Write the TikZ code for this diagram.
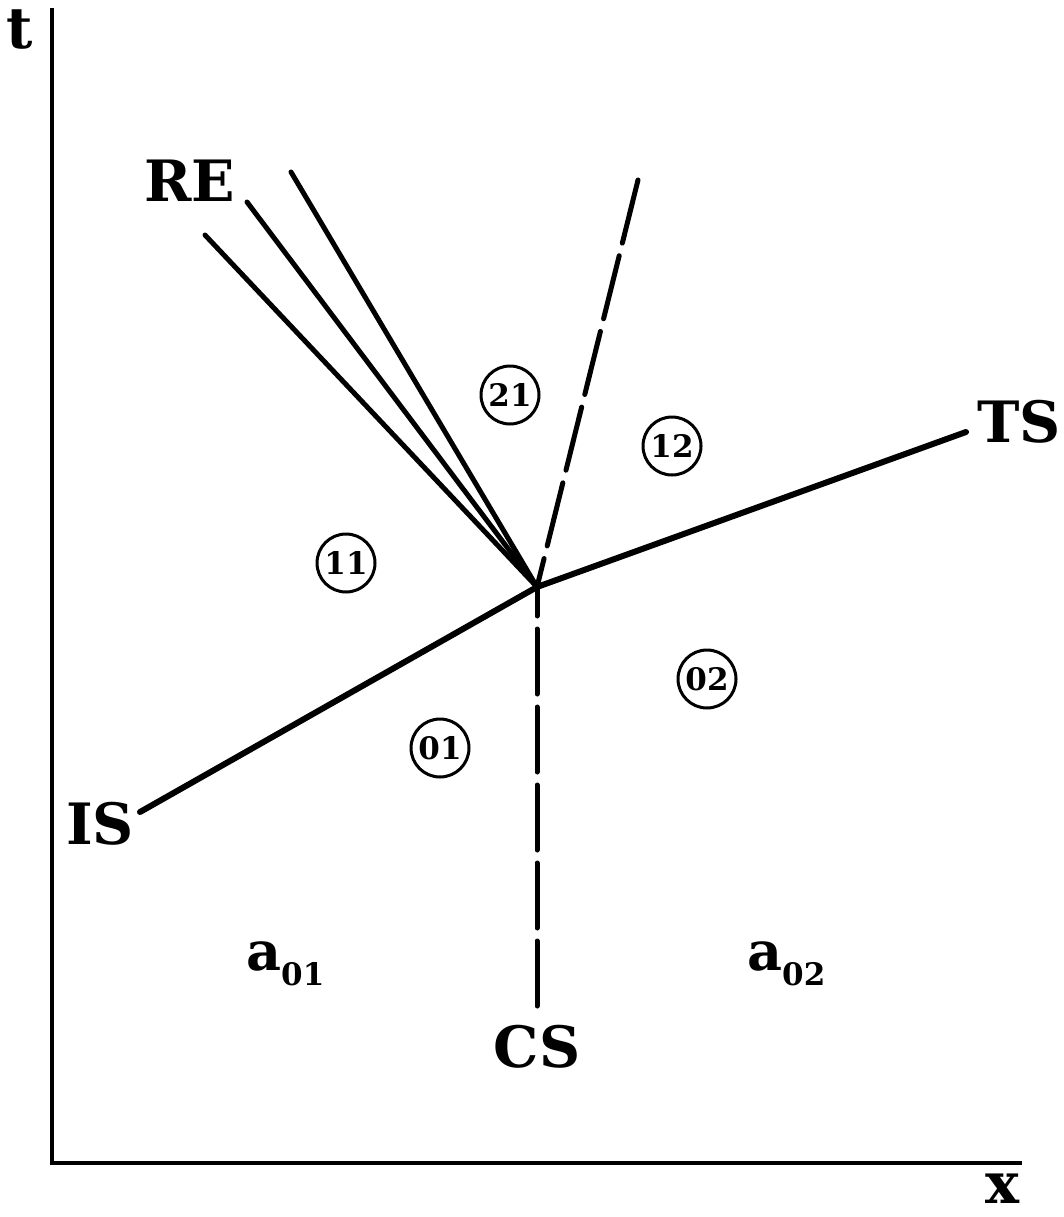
\documentclass[tikz,border=0pt]{standalone}
\usepackage{fontspec}
\setmainfont{DejaVu Serif}
\begin{document}
\begin{tikzpicture}[x=1pt,y=-1pt,
  lbl/.style={inner sep=0pt,font=\fontsize{57}{60}\selectfont\bfseries},
  sublbl/.style={inner sep=0pt,font=\fontsize{54}{58}\selectfont\bfseries},
  region/.style={draw,circle,line width=3pt,minimum size=58pt,inner sep=0pt,font=\fontsize{31}{33}\selectfont\bfseries},
  axisline/.style={line width=4pt},
  wave/.style={line width=5pt,line cap=round},
  shock/.style={line width=6pt,line cap=round},
  contact/.style={line width=5pt,line cap=round,dash pattern=on 65pt off 13pt}]
\useasboundingbox (0,0) rectangle (1063,1217);
% axes
\coordinate (o) at (52,1163);
\coordinate (ttop) at (52,8);
\coordinate (xend) at (1022,1163);
\draw[axisline] (ttop) -- (o) -- (xend);
\node[lbl] (tlab) at (20,30) {t};
\node[lbl] (xlab) at (1002,1189) {x};
% interaction point
\coordinate (c) at (537,587);
\coordinate (isend) at (140,812);
\coordinate (tsend) at (966,432);
\coordinate (re1) at (205,235);
\coordinate (re2) at (247,202);
\coordinate (re3) at (291,172);
\coordinate (upend) at (638,180);
\coordinate (csend) at (537,1006);
% waves
\draw[wave] (c) -- (re1);
\draw[wave] (c) -- (re2);
\draw[wave] (c) -- (re3);
\draw[shock] (isend) -- (c) -- (tsend);
\draw[contact] (upend) -- (c);
\draw[contact] (csend) -- (c);
% labels
\node[lbl] (RE) at (190,181) {RE};
\node[lbl] (TS) at (1019,422) {TS};
\node[lbl] (IS) at (100,824) {IS};
\node[lbl] (CS) at (537,1047) {CS};
\node[sublbl,anchor=base west] (a01) at (246,970) {a\raisebox{-15pt}{\fontsize{31}{33}\selectfont 01}};
\node[sublbl,anchor=base west] (a02) at (747,970) {a\raisebox{-15pt}{\fontsize{31}{33}\selectfont 02}};
% regions
\node[region] (r21) at (510,395) {21};
\node[region] (r12) at (672,446) {12};
\node[region] (r11) at (346,563) {11};
\node[region] (r02) at (707,679) {02};
\node[region] (r01) at (440,748) {01};
\end{tikzpicture}
\end{document}
